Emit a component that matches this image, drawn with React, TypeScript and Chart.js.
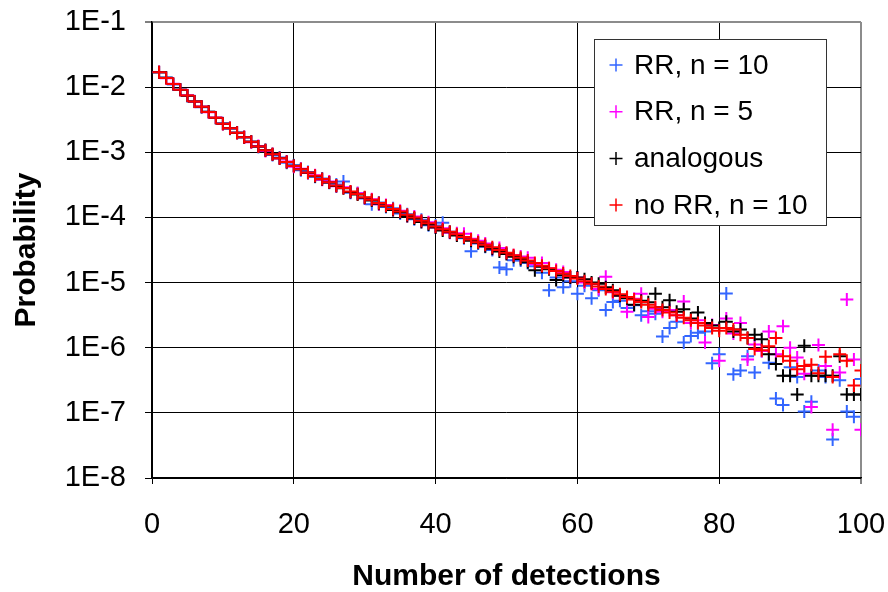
import React, { useEffect, useRef } from 'react';
import { Chart, registerables } from 'chart.js';

Chart.register(...registerables);

const DETECTIONS = [
  1, 2, 3, 4, 5, 6, 7, 8, 9, 10, 11, 12, 13, 14, 15, 16, 17, 18, 19, 20,
  21, 22, 23, 24, 25, 26, 27, 28, 29, 30, 31, 32, 33, 34, 35, 36, 37, 38, 39, 40,
  41, 42, 43, 44, 45, 46, 47, 48, 49, 50, 51, 52, 53, 54, 55, 56, 57, 58, 59, 60,
  61, 62, 63, 64, 65, 66, 67, 68, 69, 70, 71, 72, 73, 74, 75, 76, 77, 78, 79, 80,
  81, 82, 83, 84, 85, 86, 87, 88, 89, 90, 91, 92, 93, 94, 95, 96, 97, 98, 99, 100,
];

const RR_N10 = [
  1.68e-2, 1.40e-2, 1.10e-2, 9.2e-3, 7.3e-3, 6.1e-3, 4.9e-3, 4.2e-3, 3.35e-3, 2.8e-3,
  2.30e-3, 2.02e-3, 1.68e-3, 1.47e-3, 1.21e-3, 1.08e-3, 9.1e-4, 8.3e-4, 6.9e-4, 6.3e-4,
  5.3e-4, 5.0e-4, 4.2e-4, 3.95e-4, 3.4e-4, 3.2e-4, 3.55e-4, 2.4e-4, 2.35e-4, 1.95e-4,
  1.6e-4, 1.7e-4, 1.45e-4, 1.38e-4, 1.15e-4, 1.12e-4, 9.4e-5, 9.2e-5, 7.6e-5, 7.5e-5,
  8.32e-5, 6.03e-5, 5.37e-5, 4.79e-5, 3.02e-5, 3.98e-5, 3.55e-5, 3.16e-5, 1.7e-5, 1.6e-5,
  2.2e-5, 2.19e-5, 2.0e-5, 1.78e-5, 1.41e-5, 7.59e-6, 1.20e-5, 8.51e-6, 1.05e-5, 6.76e-6,
  8.91e-6, 5.75e-6, 7.59e-6, 3.80e-6, 5.01e-6, 5.25e-6, 4.07e-6, 4.47e-6, 3.16e-6, 3.63e-6,
  3.31e-6, 1.48e-6, 2.0e-6, 2.51e-6, 1.20e-6, 1.51e-6, 1.70e-6, 1.78e-6, 5.75e-7, 7.94e-7,
  6.8e-6, 3.9e-7, 4.47e-7, 7.4e-7, 4.17e-7, 8.9e-7, 5.9e-7, 1.66e-7, 1.32e-7, 5.0e-7,
  3.55e-7, 1.05e-7, 1.48e-7, 4.47e-7, 3.55e-7, 3.9e-8, 3.16e-7, 1.05e-7, 8.7e-8, 3.3e-7,
];

const RR_N5 = [
  1.71e-2, 1.37e-2, 1.13e-2, 9.0e-3, 7.5e-3, 5.95e-3, 5.05e-3, 4.1e-3, 3.42e-3, 2.72e-3,
  2.36e-3, 1.97e-3, 1.72e-3, 1.43e-3, 1.25e-3, 1.05e-3, 9.4e-4, 8.0e-4, 7.2e-4, 6.0e-4,
  5.6e-4, 4.8e-4, 4.45e-4, 3.8e-4, 3.55e-4, 3.0e-4, 2.9e-4, 2.45e-4, 2.35e-4, 1.98e-4,
  1.9e-4, 1.6e-4, 1.55e-4, 1.3e-4, 1.27e-4, 1.05e-4, 1.03e-4, 8.6e-5, 8.4e-5, 7.0e-5,
  6.8e-5, 5.8e-5, 5.7e-5, 5.6e-5, 4.7e-5, 4.37e-5, 3.98e-5, 3.31e-5, 3.39e-5, 2.82e-5,
  2.63e-5, 2.51e-5, 2.40e-5, 1.91e-5, 2.0e-5, 1.66e-5, 1.58e-5, 1.45e-5, 1.20e-5, 1.20e-5,
  1.0e-5, 9.55e-6, 7.94e-6, 1.23e-5, 7.08e-6, 6.31e-6, 3.55e-6, 5.62e-6, 6.76e-6, 2.95e-6,
  3.98e-6, 3.55e-6, 3.80e-6, 3.16e-6, 5.13e-6, 2.40e-6, 2.63e-6, 1.20e-6, 2.24e-6, 6.31e-7,
  2.82e-6, 1.66e-6, 2.40e-6, 6.61e-7, 1.12e-6, 8.91e-7, 1.78e-6, 7.94e-7, 2.14e-6, 1.0e-6,
  7.08e-7, 3.98e-7, 1.23e-7, 1.10e-6, 5.25e-7, 5.5e-8, 4.17e-7, 5.5e-6, 6.61e-7, 5.5e-8,
];

const ANALOGOUS = [
  1.70e-2, 1.39e-2, 1.12e-2, 9.1e-3, 7.4e-3, 6.0e-3, 5.0e-3, 4.2e-3, 3.4e-3, 2.75e-3,
  2.33e-3, 2.0e-3, 1.7e-3, 1.45e-3, 1.23e-3, 1.07e-3, 9.3e-4, 8.1e-4, 7.1e-4, 6.2e-4,
  5.5e-4, 4.85e-4, 4.3e-4, 3.85e-4, 3.45e-4, 3.05e-4, 2.8e-4, 2.45e-4, 2.25e-4, 2.0e-4,
  1.82e-4, 1.62e-4, 1.48e-4, 1.30e-4, 1.20e-4, 1.05e-4, 9.6e-5, 8.5e-5, 7.8e-5, 7.0e-5,
  6.3e-5, 5.9e-5, 5.3e-5, 4.9e-5, 4.4e-5, 4.1e-5, 3.6e-5, 3.3e-5, 3.0e-5, 2.75e-5,
  2.5e-5, 2.3e-5, 2.05e-5, 1.55e-5, 1.75e-5, 1.6e-5, 1.1e-5, 1.3e-5, 1.2e-5, 1.2e-5,
  1.12e-5, 1.0e-5, 9.55e-6, 8.5e-6, 7.6e-6, 6.3e-6, 5.75e-6, 4.57e-6, 5.25e-6, 5.0e-6,
  6.76e-6, 4.17e-6, 5.37e-6, 3.55e-6, 3.89e-6, 2.82e-6, 3.47e-6, 2.4e-6, 2.19e-6, 2.0e-6,
  2.51e-6, 1.78e-6, 1.91e-6, 1.41e-6, 1.58e-6, 1.35e-6, 7.94e-7, 5.6e-7, 3.72e-7, 3.72e-7,
  1.91e-7, 1.07e-6, 3.72e-7, 3.72e-7, 3.72e-7, 3.72e-7, 7.41e-7, 1.91e-7, 1.91e-7, 1.91e-7,
];

const NO_RR_N10 = [
  1.70e-2, 1.38e-2, 1.12e-2, 9.12e-3, 7.41e-3, 6.03e-3, 5.01e-3, 4.17e-3, 3.39e-3, 2.75e-3,
  2.34e-3, 2.00e-3, 1.70e-3, 1.45e-3, 1.23e-3, 1.07e-3, 9.33e-4, 8.13e-4, 7.08e-4, 6.17e-4,
  5.50e-4, 4.90e-4, 4.37e-4, 3.89e-4, 3.47e-4, 3.09e-4, 2.82e-4, 2.51e-4, 2.29e-4, 2.04e-4,
  1.86e-4, 1.66e-4, 1.51e-4, 1.35e-4, 1.23e-4, 1.10e-4, 1.00e-4, 8.91e-5, 8.13e-5, 7.24e-5,
  6.61e-5, 6.03e-5, 5.50e-5, 5.01e-5, 4.57e-5, 4.17e-5, 3.80e-5, 3.47e-5, 3.16e-5, 2.88e-5,
  2.63e-5, 2.40e-5, 2.19e-5, 2.00e-5, 1.82e-5, 1.66e-5, 1.51e-5, 1.38e-5, 1.26e-5, 1.15e-5,
  1.05e-5, 9.55e-6, 8.71e-6, 7.94e-6, 7.24e-6, 6.61e-6, 6.03e-6, 5.50e-6, 5.01e-6, 4.57e-6,
  4.17e-6, 3.80e-6, 3.47e-6, 3.16e-6, 2.88e-6, 2.63e-6, 2.40e-6, 2.19e-6, 2.00e-6, 1.82e-6,
  2.00e-6, 1.91e-6, 1.58e-6, 1.41e-6, 9.55e-7, 9.12e-7, 1.05e-6, 1.41e-6, 7.41e-7, 6.31e-7,
  4.68e-7, 5.25e-7, 5.50e-7, 4.07e-7, 7.24e-7, 3.55e-7, 7.94e-7, 6.31e-7, 2.63e-7, 4.47e-7,
];

const SERIES_LABELS = ['RR, n = 10', 'RR, n = 5', 'analogous', 'no RR, n = 10'];
const SERIES_COLORS = ['#3366FF', '#FF00FF', '#000000', '#FF0000'];
const SERIES_VALUES = [RR_N10, RR_N5, ANALOGOUS, NO_RR_N10];

const Y_TICKS = [1e-8, 1e-7, 1e-6, 1e-5, 1e-4, 1e-3, 1e-2, 1e-1];
const X_MIN = 0;
const X_MAX = 100;
const X_STEP = 20;

const X_TITLE = 'Number of detections';
const Y_TITLE = 'Probability';

const FONT = '"Liberation Sans", Arial, Helvetica, sans-serif';

const legendPlugin = {
  id: 'boxLegend',
  afterDraw(chart: any) {
    const ctx = chart.ctx;
    const bx = 594.5;
    const by = 39.5;
    const bw = 232;
    const bh = 186;
    ctx.save();
    ctx.fillStyle = '#ffffff';
    ctx.fillRect(bx, by, bw, bh);
    ctx.strokeStyle = '#333333';
    ctx.lineWidth = 1;
    ctx.strokeRect(bx, by, bw, bh);
    const rowStart = 65;
    const rowGap = 46.7;
    ctx.font = '28px ' + FONT;
    ctx.textBaseline = 'middle';
    ctx.textAlign = 'left';
    chart.data.datasets.forEach((ds: any, i: number) => {
      const y = rowStart + i * rowGap;
      const mx = 616;
      ctx.strokeStyle = ds.borderColor;
      ctx.lineWidth = 1.5;
      ctx.beginPath();
      ctx.moveTo(mx - 6.5, y);
      ctx.lineTo(mx + 6.5, y);
      ctx.moveTo(mx, y - 6.5);
      ctx.lineTo(mx, y + 6.5);
      ctx.stroke();
      ctx.fillStyle = '#000000';
      ctx.fillText(ds.label, 634, y + 1);
    });
    ctx.restore();
  },
};

export default function App() {
  const canvasRef = useRef<HTMLCanvasElement | null>(null);

  useEffect(() => {
    if (!canvasRef.current) return;
    const datasets = SERIES_VALUES.map((vals, i) => ({
      label: SERIES_LABELS[i],
      data: DETECTIONS.map((x, j) => ({ x, y: vals[j] })),
      borderColor: SERIES_COLORS[i],
      backgroundColor: SERIES_COLORS[i],
      pointStyle: 'cross',
      pointRadius: 6.5,
      pointBorderWidth: 2,
      borderWidth: 2,
      showLine: false,
      order: 4 - i,
    }));

    const chart = new Chart(canvasRef.current, {
      type: 'scatter',
      data: { datasets },
      plugins: [legendPlugin],
      options: {
        animation: false,
        responsive: true,
        maintainAspectRatio: false,
        devicePixelRatio: 1,
        layout: { padding: { left: 0, right: 27, top: 22, bottom: 0 } },
        plugins: {
          legend: { display: false },
          tooltip: { enabled: false },
        },
        scales: {
          x: {
            type: 'linear',
            min: X_MIN,
            max: X_MAX,
            ticks: {
              stepSize: X_STEP,
              color: '#000',
              font: { family: FONT, size: 29 },
              padding: 24,
              maxRotation: 0,
            },
            grid: {
              color: (c: any) => (c.tick && c.tick.value === X_MAX ? '#8c8c8c' : '#000000'),
              lineWidth: (c: any) => (c.tick && c.tick.value === X_MAX ? 2 : 1),
              tickColor: '#000000',
              tickWidth: 1,
              tickLength: 6,
            },
            border: { color: '#000000', width: 1.5 },
            title: {
              display: true,
              text: X_TITLE,
              color: '#000',
              font: { family: FONT, size: 30, weight: 'bold', lineHeight: 1.0 },
              padding: { top: 0, bottom: 0 },
            },
            afterFit: (s: any) => {
              s.height = 114;
              s.paddingLeft = 0;
              s.paddingRight = 0;
            },
          },
          y: {
            type: 'logarithmic',
            min: Y_TICKS[0],
            max: Y_TICKS[Y_TICKS.length - 1],
            afterBuildTicks: (s: any) => {
              s.ticks = Y_TICKS.map((v) => ({ value: v }));
            },
            ticks: {
              color: '#000',
              font: { family: FONT, size: 29 },
              padding: 19,
              callback: (v: any) => '1E' + Math.round(Math.log10(Number(v))),
            },
            grid: {
              color: (c: any) =>
                c.tick && c.tick.value >= Y_TICKS[Y_TICKS.length - 1] * 0.999 ? '#8c8c8c' : '#000000',
              lineWidth: (c: any) =>
                c.tick && c.tick.value >= Y_TICKS[Y_TICKS.length - 1] * 0.999 ? 2 : 1,
              tickColor: '#000000',
              tickWidth: 1,
              tickLength: 7,
            },
            border: { color: '#000000', width: 1.5 },
            title: {
              display: true,
              text: Y_TITLE,
              color: '#000',
              font: { family: FONT, size: 30, weight: 'bold', lineHeight: 1.2 },
              padding: { top: 9, bottom: 0 },
            },
            afterFit: (s: any) => {
              s.width = 152;
              s.paddingTop = 0;
              s.paddingBottom = 0;
            },
          },
        },
      } as any,
    } as any);

    return () => chart.destroy();
  }, []);

  return (
    <div style={{ position: 'absolute', left: 0, top: 0, width: 888, height: 592, background: '#fff' }}>
      <canvas ref={canvasRef} />
    </div>
  );
}
